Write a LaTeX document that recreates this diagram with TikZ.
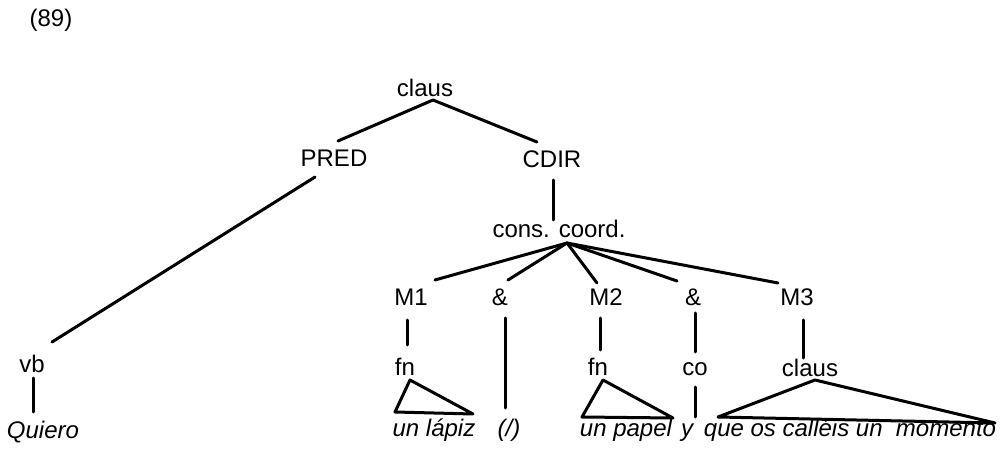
\documentclass[tikz,border=0pt]{standalone}
\usepackage{fontspec}
\setmainfont{Liberation Sans}
\begin{document}
\begin{tikzpicture}[x=0.5pt,y=-0.5pt,
  lbl/.style={anchor=base,inner sep=0pt,font=\fontsize{12}{14}\selectfont},
  wrd/.style={lbl,font=\fontsize{12}{14}\selectfont\itshape},
  edge/.style={line width=1.5pt,line cap=round,line join=round}]
\useasboundingbox (0,0) rectangle (1003,449);
% labels
\node[lbl] (num) at (51,27) {(89)};
\node[lbl] (claus) at (425,97) {claus};
\node[lbl] (PRED) at (334,167) {PRED};
\node[lbl] (CDIR) at (552,168) {CDIR};
\node[lbl] (cons) at (559,238) {cons. coord.};
\node[lbl] (M1) at (411,306) {M1};
\node[lbl] (amp1) at (500,306) {\&};
\node[lbl] (M2) at (606,306) {M2};
\node[lbl] (amp2) at (693,306) {\&};
\node[lbl] (M3) at (797,306) {M3};
\node[lbl] (vb) at (32,372) {vb};
\node[lbl] (fn1) at (405,375) {fn};
\node[lbl] (fn2) at (598,375) {fn};
\node[lbl] (co) at (695,375) {co};
\node[lbl] (claus2) at (810,376) {claus};
\node[wrd] (Quiero) at (43,438) {Quiero};
\node[wrd] (lapiz) at (434,437) {un lápiz};
\node[wrd] (slash) at (509,437) {(/)};
\node[wrd] (papel) at (626,437) {un papel};
\node[wrd] (yy) at (687,437) {y};
\node[wrd] (que) at (850,437) {que os calléis un\ \ momento};
% branches
\draw[edge] ([shift={(8,3)}]claus.base) -- ([shift={(4,-26)}]PRED.base);
\draw[edge] ([shift={(8,3)}]claus.base) -- ([shift={(-15,-26)}]CDIR.base);
\draw[edge] ([shift={(-19,10)}]PRED.base) -- ([shift={(20,-30)}]vb.base);
\draw[edge] ([shift={(1,12)}]CDIR.base) -- ([shift={(-6,-18)}]cons.base);
\draw[edge] ([shift={(8,5)}]cons.base) -- ([shift={(24,-26)}]M1.base);
\draw[edge] ([shift={(8,5)}]cons.base) -- ([shift={(8,-26)}]amp1.base);
\draw[edge] ([shift={(8,5)}]cons.base) -- ([shift={(-9,-23)}]M2.base);
\draw[edge] ([shift={(8,5)}]cons.base) -- ([shift={(-16,-25)}]amp2.base);
\draw[edge] ([shift={(8,5)}]cons.base) -- ([shift={(-19,-23)}]M3.base);
\draw[edge] ([shift={(-4,14)}]M1.base) -- ([shift={(2,-30)}]fn1.base);
\draw[edge] ([shift={(5,12)}]amp1.base) -- ([shift={(-4,-29)}]slash.base);
\draw[edge] ([shift={(-6,12)}]M2.base) -- ([shift={(2,-25)}]fn2.base);
\draw[edge] ([shift={(2,7)}]amp2.base) -- ([shift={(0,-23)}]co.base);
\draw[edge] ([shift={(6,14)}]M3.base) -- ([shift={(-7,-18)}]claus2.base);
\draw[edge] ([shift={(0,12)}]co.base) -- ([shift={(8,-20)}]yy.base);
\draw[edge] ([shift={(1,6)}]vb.base) -- ([shift={(-10,-26)}]Quiero.base);
% triangles
\draw[edge] ([shift={(5,5)}]fn1.base) -- ([shift={(-39,-25)}]lapiz.base) -- ([shift={(39,-23)}]lapiz.base) -- cycle;
\draw[edge] ([shift={(5,5)}]fn2.base) -- ([shift={(-44,-20)}]papel.base) -- ([shift={(47,-19)}]papel.base) -- cycle;
\draw[edge] ([shift={(5,4)}]claus2.base) -- ([shift={(-132,-20)}]que.base) -- ([shift={(145,-14)}]que.base) -- cycle;
\end{tikzpicture}
\end{document}
